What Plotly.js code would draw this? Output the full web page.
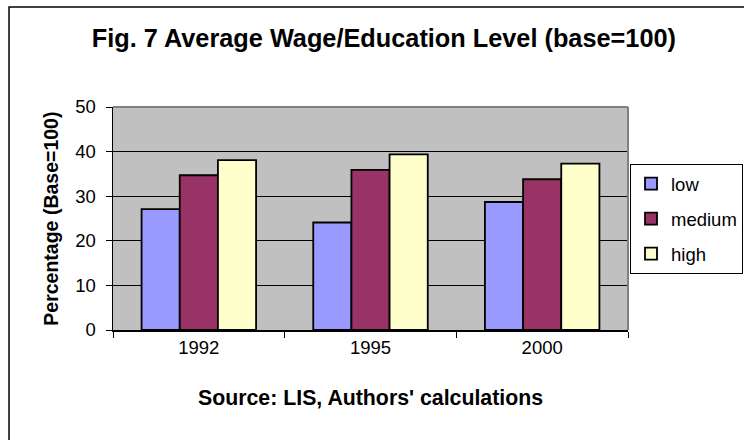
<!DOCTYPE html>
<html>
<head>
<meta charset="utf-8">
<script src="https://cdn.plot.ly/plotly-3.0.1.min.js"></script>
<style>html,body{margin:0;padding:0;background:#fff;}#chart{width:744px;height:440px;}</style>
</head>
<body>
<div id="chart"></div>
<script>
var years = ['1992', '1995', '2000'];
var seriesNames = ['low', 'medium', 'high'];
var lowValues = [27.1, 24.1, 28.7];
var mediumValues = [34.7, 35.9, 33.8];
var highValues = [38.1, 39.4, 37.3];
var yTicks = [0, 10, 20, 30, 40, 50];
var titleText = 'Fig. 7 Average Wage/Education Level (base=100)';
var yTitleText = 'Percentage (Base=100)';
var xTitleText = "Source: LIS, Authors' calculations";

var colors = ['#9999FF', '#993366', '#FFFFCC'];
var allValues = [lowValues, mediumValues, highValues];
var font = 'Liberation Sans, Arial, sans-serif';

var traces = allValues.map(function (vals, i) {
  return {
    type: 'bar',
    name: seriesNames[i],
    x: years,
    y: vals,
    legendgroup: 'g' + i,
    marker: {color: colors[i], line: {color: '#000000', width: 1.8}},
    hoverinfo: 'none'
  };
});

var layout = {
  width: 744, height: 440,
  margin: {l: 113, r: 116, t: 107, b: 110, autoexpand: false},
  paper_bgcolor: '#FFFFFF',
  plot_bgcolor: '#C0C0C0',
  barmode: 'group',
  bargap: 0.333,
  bargroupgap: 0,
  showlegend: true,
  font: {family: font, color: '#000000', size: 18},
  title: {text: '<b>' + titleText + '</b>', font: {family: font, size: 25.3, color: '#000'},
          x: 0.516, xanchor: 'center', y: 0.913, yanchor: 'middle'},
  xaxis: {
    type: 'category', tickson: 'boundaries', ticks: 'outside', ticklen: 6, tickcolor: '#000',
    showline: true, linecolor: '#000', linewidth: 1.5, showgrid: false,
    tickfont: {family: font, size: 18.5, color: '#000'}, fixedrange: true
  },
  yaxis: {
    range: [0, 50], tickvals: yTicks, ticks: 'outside', ticklen: 6, tickcolor: '#000',
    showline: true, linecolor: '#000', linewidth: 1.5,
    showgrid: true, gridcolor: '#000000', gridwidth: 1, zeroline: false,
    ticklabelstandoff: 6,
    tickfont: {family: font, size: 18.5, color: '#000'}, fixedrange: true
  },
  legend: {
    x: 1.0039, xanchor: 'left', y: 0.744, yanchor: 'top',
    bgcolor: '#FFFFFF', bordercolor: '#000000', borderwidth: 1,
    font: {family: font, size: 18.5, color: '#000'},
    traceorder: 'grouped', tracegroupgap: 8, itemclick: false
  },
  shapes: [
    {type: 'line', xref: 'paper', yref: 'paper', x0: 0, x1: 1, y0: 1, y1: 1, line: {color: '#808080', width: 2}},
    {type: 'line', xref: 'paper', yref: 'paper', x0: 1, x1: 1, y0: 0, y1: 1, line: {color: '#808080', width: 2}},
    {type: 'rect', xref: 'paper', yref: 'paper', x0: -0.2019, x1: 1.5, y0: -0.7, y1: 1.4484,
     line: {color: '#000000', width: 1.5}, fillcolor: 'rgba(0,0,0,0)', layer: 'below'}
  ],
  annotations: [
    {text: '<b>' + yTitleText + '</b>', xref: 'paper', yref: 'paper', x: -0.122, y: 0.5,
     textangle: -90, showarrow: false, xanchor: 'center', yanchor: 'middle',
     font: {family: font, size: 19.5, color: '#000'}},
    {text: '<b>' + xTitleText + '</b>', xref: 'paper', yref: 'paper', x: 0.5, y: -0.305,
     showarrow: false, xanchor: 'center', yanchor: 'middle',
     font: {family: font, size: 21.3, color: '#000'}}
  ]
};

Plotly.newPlot('chart', traces, layout, {displayModeBar: false, staticPlot: true});
</script>
</body>
</html>
